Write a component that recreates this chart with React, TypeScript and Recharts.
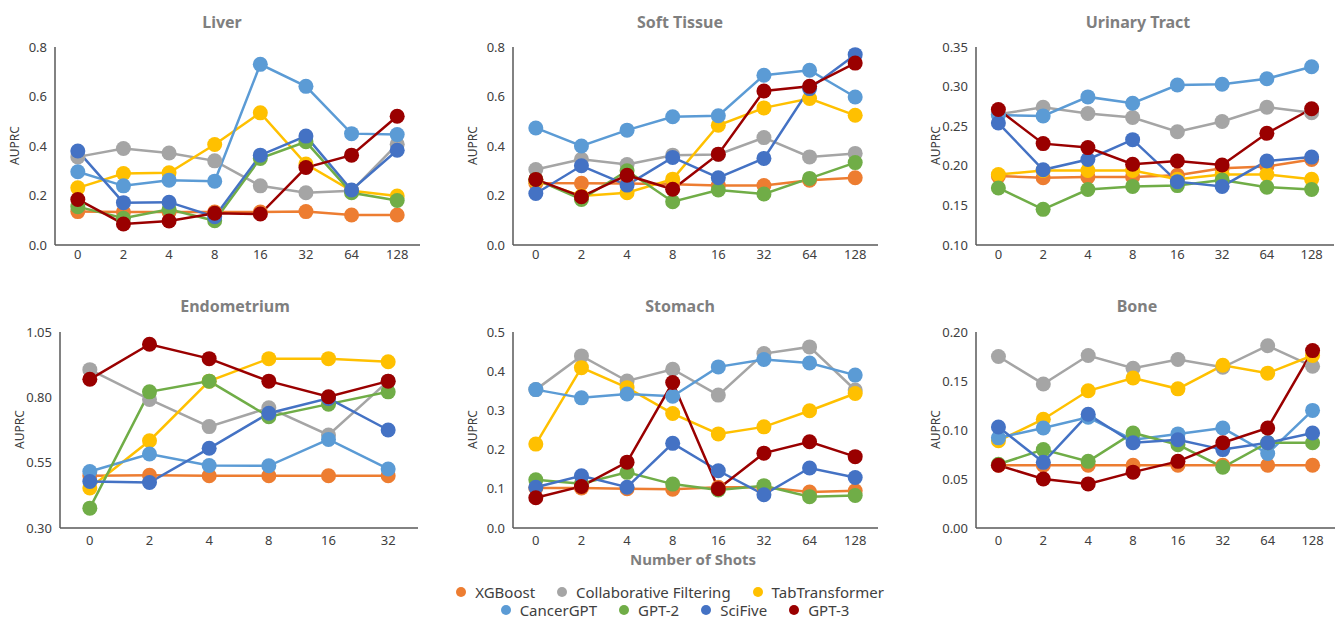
import React from 'react';
import { LineChart, Line, XAxis, YAxis } from 'recharts';

// x categories (number of shots)
const SHOTS = ['0', '2', '4', '8', '16', '32', '64', '128'];
const SHOTS_ENDO = ['0', '2', '4', '8', '16', '32'];

const SERIES_NAMES = ['XGBoost', 'Collaborative Filtering', 'TabTransformer', 'CancerGPT', 'GPT-2', 'SciFive', 'GPT-3'];
const COLORS = ['#ED7D31', '#A5A5A5', '#FFC000', '#5B9BD5', '#70AD47', '#4472C4', '#9A0000'];

// y tick labels
const TICKS_LIVER = [0, 0.2, 0.4, 0.6, 0.8];
const TICKS_SOFT = [0, 0.2, 0.4, 0.6, 0.8];
const TICKS_URINARY = [0.1, 0.15, 0.2, 0.25, 0.3, 0.35];
const TICKS_ENDO = [0.3, 0.55, 0.8, 1.05];
const TICKS_STOMACH = [0, 0.1, 0.2, 0.3, 0.4, 0.5];
const TICKS_BONE = [0, 0.05, 0.1, 0.15, 0.2];

// Liver
const liverXGBoost = [0.135, 0.133, 0.133, 0.133, 0.133, 0.135, 0.121, 0.121];
const liverCF = [0.356, 0.39, 0.372, 0.34, 0.239, 0.211, 0.219, 0.407];
const liverTab = [0.231, 0.289, 0.292, 0.406, 0.534, 0.327, 0.219, 0.198];
const liverCancerGPT = [0.296, 0.239, 0.262, 0.258, 0.73, 0.641, 0.45, 0.446];
const liverGPT2 = [0.155, 0.108, 0.144, 0.098, 0.35, 0.417, 0.211, 0.18];
const liverSciFive = [0.38, 0.171, 0.173, 0.114, 0.363, 0.44, 0.222, 0.383];
const liverGPT3 = [0.184, 0.085, 0.097, 0.128, 0.125, 0.313, 0.363, 0.52];

// Soft Tissue
const softXGBoost = [0.25, 0.249, 0.248, 0.245, 0.24, 0.24, 0.262, 0.272];
const softCF = [0.305, 0.346, 0.325, 0.363, 0.366, 0.434, 0.356, 0.37];
const softTab = [0.26, 0.198, 0.211, 0.266, 0.484, 0.554, 0.592, 0.524];
const softCancerGPT = [0.473, 0.4, 0.464, 0.518, 0.522, 0.686, 0.706, 0.598];
const softGPT2 = [0.265, 0.184, 0.3, 0.175, 0.222, 0.206, 0.269, 0.333];
const softSciFive = [0.208, 0.32, 0.242, 0.354, 0.272, 0.35, 0.632, 0.769];
const softGPT3 = [0.265, 0.195, 0.282, 0.225, 0.367, 0.622, 0.641, 0.735];

// Urinary Tract
const urinaryXGBoost = [0.187, 0.185, 0.186, 0.186, 0.188, 0.197, 0.199, 0.208];
const urinaryCF = [0.265, 0.274, 0.266, 0.261, 0.243, 0.256, 0.274, 0.267];
const urinaryTab = [0.189, 0.194, 0.194, 0.194, 0.183, 0.189, 0.189, 0.183];
const urinaryCancerGPT = [0.264, 0.263, 0.287, 0.279, 0.302, 0.303, 0.31, 0.325];
const urinaryGPT2 = [0.172, 0.145, 0.17, 0.174, 0.175, 0.182, 0.173, 0.17];
const urinarySciFive = [0.254, 0.195, 0.208, 0.233, 0.18, 0.174, 0.206, 0.211];
const urinaryGPT3 = [0.271, 0.228, 0.223, 0.202, 0.206, 0.201, 0.241, 0.272];

// Endometrium
const endoXGBoost = [0.5, 0.502, 0.5, 0.5, 0.5, 0.5];
const endoCF = [0.906, 0.792, 0.688, 0.76, 0.656, 0.862];
const endoTab = [0.453, 0.634, 0.862, 0.948, 0.948, 0.936];
const endoCancerGPT = [0.516, 0.583, 0.539, 0.538, 0.639, 0.526];
const endoGPT2 = [0.376, 0.821, 0.862, 0.726, 0.774, 0.821];
const endoSciFive = [0.478, 0.474, 0.605, 0.739, 0.796, 0.675];
const endoGPT3 = [0.869, 1.003, 0.948, 0.862, 0.802, 0.862];

// Stomach
const stomachXGBoost = [0.102, 0.102, 0.1, 0.099, 0.104, 0.104, 0.092, 0.095];
const stomachCF = [0.353, 0.439, 0.375, 0.405, 0.339, 0.445, 0.462, 0.352];
const stomachTab = [0.214, 0.409, 0.358, 0.292, 0.24, 0.258, 0.299, 0.343];
const stomachCancerGPT = [0.353, 0.332, 0.342, 0.336, 0.411, 0.43, 0.421, 0.39];
const stomachGPT2 = [0.123, 0.113, 0.142, 0.112, 0.097, 0.108, 0.08, 0.083];
const stomachSciFive = [0.104, 0.133, 0.104, 0.216, 0.146, 0.085, 0.153, 0.129];
const stomachGPT3 = [0.077, 0.106, 0.168, 0.371, 0.1, 0.191, 0.22, 0.182];

// Bone
const boneXGBoost = [0.064, 0.064, 0.064, 0.064, 0.064, 0.064, 0.064, 0.064];
const boneCF = [0.175, 0.147, 0.176, 0.163, 0.172, 0.164, 0.186, 0.165];
const boneTab = [0.089, 0.111, 0.14, 0.153, 0.142, 0.166, 0.158, 0.176];
const boneCancerGPT = [0.092, 0.102, 0.113, 0.09, 0.096, 0.102, 0.076, 0.12];
const boneGPT2 = [0.065, 0.08, 0.068, 0.097, 0.085, 0.062, 0.087, 0.087];
const boneSciFive = [0.103, 0.067, 0.116, 0.087, 0.09, 0.08, 0.087, 0.097];
const boneGPT3 = [0.064, 0.05, 0.045, 0.057, 0.068, 0.087, 0.102, 0.181];

const FONT = '"Noto Sans", "Open Sans", sans-serif';
const AXIS_COLOR = '#595959';

interface PanelProps {
  title: string;
  cats: string[];
  values: number[][];
  ticks: number[];
  digits: number;
  plotLeft: number;
  plotTop: number;
  plotW: number;
  plotH: number;
  titleX: number;
  tickGap: number;
}

const ML = 50;
const MT = 12;
const MR = 6;
const MB = 34;

const Panel: React.FC<PanelProps> = ({ title, cats, values, ticks, digits, plotLeft, plotTop, plotW, plotH, titleX, tickGap }) => {
  const data = cats.map((c, i) => {
    const row: Record<string, string | number> = { shot: c };
    values.forEach((v, s) => { row['s' + s] = v[i]; });
    return row;
  });
  const half = plotW / cats.length / 2;

  return (
    <>
      <div style={{ position: 'absolute', left: titleX - 150, width: 300, top: plotTop - (plotTop > 100 ? 37 : 36), textAlign: 'center', fontFamily: FONT, fontWeight: 700, fontSize: 16, color: '#7F7F7F' }}>
        {title}
      </div>
      <div style={{ position: 'absolute', left: plotLeft - 41 - 50, top: plotTop + plotH / 2 - 9, width: 100, textAlign: 'center', transform: 'rotate(-90deg)', fontFamily: FONT, fontSize: 12, color: '#404040' }}>
        AUPRC
      </div>
      <div style={{ position: 'absolute', left: plotLeft - ML, top: plotTop - MT }}>
        <LineChart width={plotW + ML + MR} height={plotH + MT + MB} data={data} margin={{ top: MT, right: MR, bottom: 0, left: 0 }}>
          <XAxis
            dataKey="shot"
            interval={0}
            height={MB}
            padding={{ left: half, right: half }}
            axisLine={{ stroke: AXIS_COLOR, strokeWidth: 1.5 }}
            tickLine={false}
            tickSize={0}
            tickMargin={tickGap}
            tick={{ fill: '#404040', fontSize: 13, fontFamily: FONT }}
          />
          <YAxis
            width={ML}
            domain={[ticks[0], ticks[ticks.length - 1]]}
            ticks={ticks}
            interval={0}
            allowDataOverflow
            axisLine={{ stroke: AXIS_COLOR, strokeWidth: 1.5 }}
            tickLine={false}
            tickSize={0}
            tickMargin={8}
            tickFormatter={(v: number) => v.toFixed(digits)}
            tick={{ fill: '#404040', fontSize: 13, fontFamily: FONT }}
          />
          {values.map((_, s) => (
            <Line
              key={s}
              dataKey={'s' + s}
              name={SERIES_NAMES[s]}
              stroke={COLORS[s]}
              strokeWidth={2.5}
              dot={{ r: 7.5, fill: COLORS[s], stroke: COLORS[s], strokeWidth: 0 }}
              isAnimationActive={false}
            />
          ))}
        </LineChart>
      </div>
    </>
  );
};

const LegendItem: React.FC<{ idx: number }> = ({ idx }) => (
  <div style={{ display: 'flex', alignItems: 'center', gap: 9 }}>
    <span style={{ width: 10, height: 10, borderRadius: 5, background: COLORS[idx], display: 'inline-block' }} />
    <span>{SERIES_NAMES[idx]}</span>
  </div>
);

const App: React.FC = () => {
  return (
    <div style={{ position: 'absolute', left: 0, top: 0, width: 1340, height: 622, background: '#fff', overflow: 'hidden' }}>
      <Panel title="Liver" cats={SHOTS} ticks={TICKS_LIVER} digits={1}
        values={[liverXGBoost, liverCF, liverTab, liverCancerGPT, liverGPT2, liverSciFive, liverGPT3]}
        plotLeft={55} plotTop={47} plotW={365} plotH={198} titleX={222} tickGap={5} />
      <Panel title="Soft Tissue" cats={SHOTS} ticks={TICKS_SOFT} digits={1}
        values={[softXGBoost, softCF, softTab, softCancerGPT, softGPT2, softSciFive, softGPT3]}
        plotLeft={513} plotTop={47} plotW={365} plotH={198} titleX={680} tickGap={5} />
      <Panel title="Urinary Tract" cats={SHOTS} ticks={TICKS_URINARY} digits={2}
        values={[urinaryXGBoost, urinaryCF, urinaryTab, urinaryCancerGPT, urinaryGPT2, urinarySciFive, urinaryGPT3]}
        plotLeft={976} plotTop={47} plotW={358} plotH={198} titleX={1138} tickGap={5} />
      <Panel title="Endometrium" cats={SHOTS_ENDO} ticks={TICKS_ENDO} digits={2}
        values={[endoXGBoost, endoCF, endoTab, endoCancerGPT, endoGPT2, endoSciFive, endoGPT3]}
        plotLeft={60} plotTop={332} plotW={358} plotH={196} titleX={235} tickGap={8} />
      <Panel title="Stomach" cats={SHOTS} ticks={TICKS_STOMACH} digits={1}
        values={[stomachXGBoost, stomachCF, stomachTab, stomachCancerGPT, stomachGPT2, stomachSciFive, stomachGPT3]}
        plotLeft={513} plotTop={332} plotW={365} plotH={196} titleX={680} tickGap={8} />
      <Panel title="Bone" cats={SHOTS} ticks={TICKS_BONE} digits={2}
        values={[boneXGBoost, boneCF, boneTab, boneCancerGPT, boneGPT2, boneSciFive, boneGPT3]}
        plotLeft={976} plotTop={332} plotW={359} plotH={196} titleX={1137} tickGap={8} />

      <div style={{ position: 'absolute', left: 543, width: 300, top: 549, textAlign: 'center', fontFamily: FONT, fontWeight: 700, fontSize: 15, color: '#7F7F7F' }}>
        Number of Shots
      </div>

      <div style={{ position: 'absolute', left: 0, width: 1340, top: 583, fontFamily: FONT, fontSize: 15, color: '#404040', lineHeight: '18px' }}>
        <div style={{ display: 'flex', justifyContent: 'center', gap: 22 }}>
          {[0, 1, 2].map(i => <LegendItem key={i} idx={i} />)}
        </div>
        <div style={{ display: 'flex', justifyContent: 'center', gap: 22, paddingLeft: 10 }}>
          {[3, 4, 5, 6].map(i => <LegendItem key={i} idx={i} />)}
        </div>
      </div>
    </div>
  );
};

export default App;
